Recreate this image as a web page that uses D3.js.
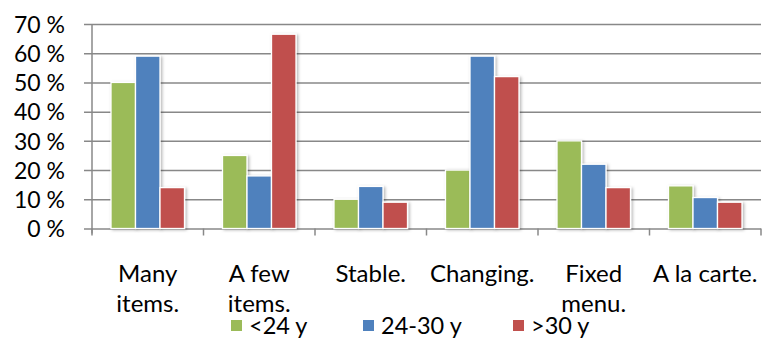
<!DOCTYPE html>
<html>
<head>
<meta charset="utf-8">
<script src="https://cdn.jsdelivr.net/npm/d3@7"></script>
<style>
  html, body { margin: 0; padding: 0; background: #fff; }
  svg { display: block; }
  text { font-family: Lato, "Open Sans", sans-serif; fill: #000; }
</style>
</head>
<body>
<svg id="chart" width="762" height="338"></svg>
<script>
// Menu preferences by age group (share of respondents)
const categories = [["Many", "items."], ["A few", "items."], ["Stable."], ["Changing."], ["Fixed", "menu."], ["A la carte."]];
const seriesNames = ["<24 y", "24-30 y", ">30 y"];
const under24 = [50, 25, 10, 20, 30, 14.6];
const from24to30 = [59, 18, 14.4, 59, 22, 10.6];
const over30 = [14, 66.5, 9, 52, 14, 9];
const yTicks = [0, 10, 20, 30, 40, 50, 60, 70];
const colors = ["#9BBB59", "#4F81BD", "#C0504D"];

const series = [under24, from24to30, over30];
const catKeys = categories.map(c => c.join(" "));

const svg = d3.select("#chart");
const plotLeft = 92, plotRight = 761, plotTop = 24, plotBottom = 228.5;

const y = d3.scaleLinear().domain([0, 70]).range([plotBottom, plotTop]);
const x0 = d3.scaleBand().domain(catKeys).range([plotLeft, plotRight]);
const x1 = d3.scaleBand().domain(seriesNames).range([19, x0.bandwidth() - 19]);

const defs = svg.append("defs");
const shadow = defs.append("filter").attr("id", "shadow")
  .attr("x", "-20%").attr("y", "-5%").attr("width", "150%").attr("height", "120%");
shadow.append("feDropShadow").attr("dx", 1.5).attr("dy", 1).attr("stdDeviation", 1.5)
  .attr("flood-color", "#000").attr("flood-opacity", 0.3);

// Horizontal gridlines with left tick stubs
const yAxis = svg.append("g").attr("transform", `translate(${plotLeft},0)`)
  .call(d3.axisLeft(y).tickValues(yTicks).tickSize(-(plotRight - plotLeft)).tickSizeOuter(0)
    .tickFormat(d => d + " %"));
yAxis.select(".domain").remove();
yAxis.selectAll(".tick line").attr("x1", -8).attr("stroke", "#888").attr("stroke-width", 1.5);
yAxis.selectAll(".tick text").attr("x", -27).attr("dy", "0.36em")
  .style("font-size", "23px").attr("fill", "#000");

// Vertical axis line
svg.append("line").attr("x1", plotLeft).attr("x2", plotLeft).attr("y1", plotTop).attr("y2", plotBottom + 5)
  .attr("stroke", "#888").attr("stroke-width", 1.5);

// Category tick marks below the baseline
const tickXs = d3.range(catKeys.length + 1).map(i => plotLeft + i * x0.bandwidth());
svg.append("g").selectAll("line").data(tickXs).join("line")
  .attr("x1", d => d).attr("x2", d => d).attr("y1", plotBottom).attr("y2", plotBottom + 7)
  .attr("stroke", "#888").attr("stroke-width", 1.5);

// Bars
const groups = svg.append("g").selectAll("g").data(catKeys).join("g")
  .attr("transform", d => `translate(${x0(d)},0)`);
groups.selectAll("rect")
  .data((d, i) => series.map((s, j) => ({ name: seriesNames[j], value: s[i], color: colors[j] })))
  .join("rect")
  .attr("x", d => x1(d.name))
  .attr("width", x1.bandwidth())
  .attr("y", d => y(d.value))
  .attr("height", d => y(0) - y(d.value))
  .attr("fill", d => d.color)
  .attr("stroke", "#fff").attr("stroke-width", 1.3)
  .attr("filter", "url(#shadow)");

// Category labels
const labels = svg.append("g").selectAll("text").data(categories).join("text")
  .attr("text-anchor", "middle")
  .attr("x", (d, i) => x0(catKeys[i]) + x0.bandwidth() / 2)
  .attr("y", 282)
  .style("font-size", "24px");
labels.selectAll("tspan").data(d => d).join("tspan")
  .attr("x", function () { return this.parentNode.getAttribute("x"); })
  .attr("dy", (d, i) => i === 0 ? 0 : 30)
  .text(d => d);

// Legend
const legendX = [231, 363, 513];
const legend = svg.append("g").selectAll("g").data(seriesNames).join("g")
  .attr("transform", (d, i) => `translate(${legendX[i]},0)`);
legend.append("rect").attr("x", 0).attr("y", 320).attr("width", 11).attr("height", 11)
  .attr("fill", (d, i) => colors[i]);
legend.append("text").attr("x", 18).attr("y", 334).style("font-size", "23.5px").text(d => d);
</script>
</body>
</html>
